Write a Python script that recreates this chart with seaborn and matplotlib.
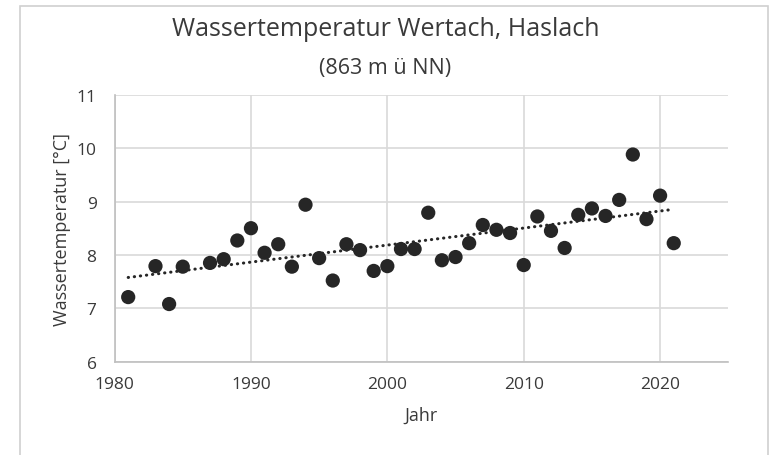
import numpy as np
import pandas as pd
import seaborn as sns
import matplotlib.pyplot as plt
from matplotlib.patches import Rectangle

# Jahresmittel der Wassertemperatur
jahre = [1981, 1983, 1984, 1985, 1987, 1988, 1989, 1990, 1991, 1992,
         1993, 1994, 1995, 1996, 1997, 1998, 1999, 2000, 2001, 2002,
         2003, 2004, 2005, 2006, 2007, 2008, 2009, 2010, 2011, 2012,
         2013, 2014, 2015, 2016, 2017, 2018, 2019, 2020, 2021]
temperatur = [7.21, 7.79, 7.08, 7.78, 7.85, 7.92, 8.27, 8.50, 8.04, 8.20,
              7.78, 8.94, 7.94, 7.52, 8.20, 8.09, 7.70, 7.79, 8.11, 8.11,
              8.79, 7.90, 7.96, 8.22, 8.56, 8.47, 8.41, 7.81, 8.72, 8.45,
              8.13, 8.75, 8.87, 8.73, 9.03, 9.88, 8.67, 9.11, 8.22]
x_ticks = [1980, 1990, 2000, 2010, 2020]
y_ticks = [6, 7, 8, 9, 10, 11]

df = pd.DataFrame({"Jahr": jahre, "Wassertemperatur": temperatur})

sns.set_style("white")
plt.rcParams["font.family"] = ["Open Sans", "DejaVu Sans"]

fig = plt.figure(figsize=(7.71, 4.56), dpi=100)
ax = fig.add_axes([0.1486, 0.2046, 0.796, 0.5855])

textfarbe = "#3a3a3a"

# lineare Trendlinie
k, d = np.polyfit(df["Jahr"], df["Wassertemperatur"], 1)
xt = np.array([min(jahre), max(jahre)])
ax.plot(xt, k * xt + d, color="#262626", lw=2.2, linestyle=(0, (0.1, 1.9)),
        dash_capstyle="round", zorder=2)

sns.scatterplot(data=df, x="Jahr", y="Wassertemperatur", ax=ax, s=105,
                color="#262626", edgecolor="none", zorder=3)

ax.set_xlim(1980, 2025)
ax.set_ylim(6, 11)
ax.set_xticks(x_ticks)
ax.set_yticks(y_ticks)
ax.grid(True, color="#d9d9d9", lw=1.2, zorder=0)
ax.set_axisbelow(True)
for s in ["top", "right"]:
    ax.spines[s].set_visible(False)
for s in ["left", "bottom"]:
    ax.spines[s].set_color("#bfbfbf")
    ax.spines[s].set_linewidth(1.2)
ax.tick_params(axis="x", length=0, labelsize=12.5, colors=textfarbe, pad=10)
ax.tick_params(axis="y", length=0, labelsize=12.5, colors=textfarbe, pad=13)

ax.set_xlabel("Jahr", fontsize=13, color=textfarbe, labelpad=10)
ax.set_ylabel("Wassertemperatur [°C]", fontsize=13, color=textfarbe, labelpad=4)

fig.text(0.5, 0.962, "Wassertemperatur Wertach, Haslach", ha="center", va="top",
         fontsize=18, color=textfarbe)
fig.text(0.5, 0.872, "(863 m ü NN)", ha="center", va="top",
         fontsize=15.5, color=textfarbe)

fig.patches.append(Rectangle((0.026, -0.05), 0.97, 1.035, transform=fig.transFigure,
                             fill=False, edgecolor="#d0d0d0", lw=1.2))

fig.savefig("out.png", dpi=100)
